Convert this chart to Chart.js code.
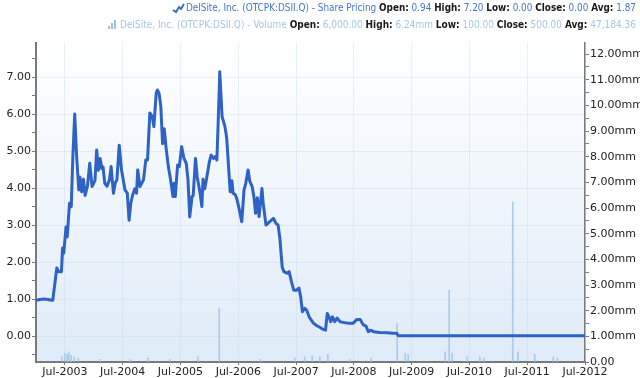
<!DOCTYPE html>
<html>
<head>
<meta charset="utf-8">
<script src="https://cdn.jsdelivr.net/npm/chart.js@4.4.0/dist/chart.umd.min.js"></script>
<style>
  html, body { margin: 0; padding: 0; background: #ffffff; }
  #wrap { width: 640px; height: 378px; position: relative; }
</style>
</head>
<body>
<div id="wrap"><canvas id="c" width="640" height="378"></canvas></div>
<script>
// ---- Data (dates as decimal years) ----
const priceDates = [2003.00,2003.07,2003.14,2003.21,2003.27,2003.29,2003.36,2003.39,2003.44,2003.46,2003.48,2003.52,2003.54,2003.58,2003.61,2003.64,2003.67,2003.70,2003.74,2003.76,2003.79,2003.82,2003.85,2003.89,2003.93,2003.97,2004.02,2004.05,2004.08,2004.11,2004.14,2004.16,2004.19,2004.23,2004.27,2004.30,2004.34,2004.37,2004.40,2004.44,2004.48,2004.54,2004.58,2004.61,2004.64,2004.67,2004.71,2004.74,2004.76,2004.80,2004.86,2004.90,2004.93,2004.97,2005.01,2005.04,2005.08,2005.10,2005.13,2005.16,2005.19,2005.22,2005.25,2005.29,2005.33,2005.37,2005.39,2005.41,2005.45,2005.48,2005.52,2005.56,2005.60,2005.63,2005.66,2005.70,2005.72,2005.76,2005.79,2005.84,2005.87,2005.89,2005.92,2005.95,2006.00,2006.03,2006.07,2006.10,2006.13,2006.15,2006.18,2006.22,2006.27,2006.30,2006.36,2006.39,2006.41,2006.45,2006.48,2006.52,2006.56,2006.60,2006.63,2006.67,2006.70,2006.74,2006.77,2006.80,2006.83,2006.86,2006.91,2006.93,2006.98,2007.05,2007.11,2007.15,2007.19,2007.22,2007.26,2007.29,2007.34,2007.38,2007.42,2007.46,2007.51,2007.55,2007.58,2007.61,2007.65,2007.68,2007.73,2007.80,2007.86,2007.91,2007.97,2008.01,2008.04,2008.08,2008.10,2008.13,2008.17,2008.21,2008.26,2008.32,2008.40,2008.49,2008.55,2008.61,2008.66,2008.71,2008.75,2008.79,2008.84,2008.95,2009.07,2009.18,2009.24,2009.27,2009.64,2010.34,2011.03,2011.72,2012.50];
const priceValues = [0.97,0.99,1.00,0.99,0.97,0.97,1.84,1.74,1.74,2.38,2.24,2.95,2.68,3.59,3.50,4.94,6.00,4.94,3.95,4.30,3.90,4.24,3.80,4.05,4.67,4.04,4.20,5.03,4.48,4.80,4.53,4.57,4.13,4.05,4.22,4.58,3.86,4.13,4.22,5.16,4.49,3.95,3.86,3.13,3.59,3.80,3.98,3.86,4.49,4.04,4.22,4.76,4.76,6.03,5.94,5.66,6.56,6.65,6.56,6.20,5.20,5.60,5.10,4.58,4.22,3.77,4.13,3.77,4.62,4.58,5.12,4.80,4.67,4.22,3.22,3.77,3.80,4.80,4.30,3.86,3.50,4.24,3.98,4.24,4.71,4.89,4.80,4.85,4.76,5.66,7.14,5.93,5.66,5.35,3.90,4.20,3.86,3.82,3.68,3.40,3.09,3.95,4.13,4.49,4.18,4.04,3.77,3.32,3.74,3.23,3.99,3.60,3.00,3.10,3.18,3.05,3.00,2.64,1.87,1.74,1.70,1.74,1.47,1.24,1.24,1.30,1.06,0.66,0.75,0.71,0.51,0.35,0.28,0.24,0.18,0.16,0.61,0.48,0.39,0.52,0.39,0.49,0.39,0.37,0.35,0.35,0.45,0.45,0.31,0.27,0.12,0.16,0.12,0.10,0.09,0.08,0.08,0.01,0.01,0.01,0.01,0.01,0.01];

const volumeDates = [2003.45,2003.50,2003.54,2003.57,2003.61,2003.66,2003.73,2004.11,2004.63,2004.94,2005.32,2005.80,2006.17,2006.88,2007.48,2007.65,2007.78,2007.91,2008.05,2008.43,2008.80,2009.25,2009.39,2009.44,2010.08,2010.15,2010.20,2010.46,2010.68,2010.75,2011.25,2011.34,2011.63,2011.95,2012.02];
const volumeValues = [0.20,0.35,0.30,0.40,0.25,0.20,0.15,0.10,0.10,0.15,0.10,0.20,2.10,0.10,0.15,0.20,0.25,0.20,0.30,0.10,0.15,1.50,0.35,0.30,0.40,2.80,0.35,0.20,0.20,0.15,6.24,0.40,0.30,0.20,0.15];

const xTickValues = [2003.5,2004.5,2005.5,2006.5,2007.5,2008.5,2009.5,2010.5,2011.5,2012.5];
const xTickLabels = ['Jul-2003','Jul-2004','Jul-2005','Jul-2006','Jul-2007','Jul-2008','Jul-2009','Jul-2010','Jul-2011','Jul-2012'];
const priceTickValues = [-0.5,0,0.5,1,1.5,2,2.5,3,3.5,4,4.5,5,5.5,6,6.5,7,7.5];
const volumeTickValues = [0,0.5,1,1.5,2,2.5,3,3.5,4,4.5,5,5.5,6,6.5,7,7.5,8,8.5,9,9.5,10,10.5,11,11.5,12];

const legendPrice = [
  ['DelSite, Inc. (OTCPK:DSII.Q) - Share Pricing ', 'c'],
  ['Open:', 'b'], [' 0.94 ', 'c'], ['High:', 'b'], [' 7.20 ', 'c'],
  ['Low:', 'b'], [' 0.00 ', 'c'], ['Close:', 'b'], [' 0.00 ', 'c'],
  ['Avg:', 'b'], [' 1.87', 'c']
];
const legendVolume = [
  ['DelSite, Inc. (OTCPK:DSII.Q) - Volume ', 'c'],
  ['Open:', 'b'], [' 6,000.00 ', 'c'], ['High:', 'b'], [' 6.24mm ', 'c'],
  ['Low:', 'b'], [' 100.00 ', 'c'], ['Close:', 'b'], [' 500.00 ', 'c'],
  ['Avg:', 'b'], [' 47,184.36', 'c']
];

// ---- Styles ----
const FONT = 'DejaVu Sans, Verdana, sans-serif';
const LINE_COLOR = '#2e62c6';
const VOL_COLOR = 'rgba(160,198,232,0.85)';
const AXIS_COLOR = '#7a7a7a';
const GRID_COLOR = 'rgba(190,208,230,0.3)';

const bgPlugin = {
  id: 'bg',
  beforeDraw(chart) {
    const { ctx, chartArea: a } = chart;
    ctx.save();
    ctx.fillStyle = '#ffffff';
    ctx.fillRect(0, 0, chart.width, chart.height);
    const g = ctx.createLinearGradient(0, a.top, 0, a.bottom);
    g.addColorStop(0, '#ffffff');
    g.addColorStop(1, '#dfebf8');
    ctx.fillStyle = g;
    ctx.fillRect(a.left, a.top, a.right - a.left, a.bottom - a.top);
    ctx.restore();
  }
};

function drawLegendLine(ctx, parts, rightX, y, targetLeft, colorMain) {
  let w = 0;
  parts.forEach(([t, s]) => {
    ctx.font = (s === 'b' ? 'bold ' : '') + '11px ' + FONT;
    w += ctx.measureText(t).width;
  });
  const target = rightX - targetLeft;
  const sx = target / w;
  ctx.save();
  ctx.translate(targetLeft, y);
  ctx.scale(sx, 1);
  let x = 0;
  ctx.textBaseline = 'middle';
  parts.forEach(([t, s]) => {
    ctx.font = (s === 'b' ? 'bold ' : '') + '11px ' + FONT;
    ctx.fillStyle = s === 'b' ? '#1a1a1a' : colorMain;
    ctx.fillText(t, x, 0);
    x += ctx.measureText(t).width;
  });
  ctx.restore();
}

const legendPlugin = {
  id: 'legendText',
  afterDraw(chart) {
    const ctx = chart.ctx;
    ctx.save();
    ctx.strokeStyle = '#3b6cc4';
    ctx.lineWidth = 2;
    ctx.beginPath();
    ctx.moveTo(173, 10); ctx.lineTo(176, 12); ctx.lineTo(179, 7); ctx.lineTo(181, 9); ctx.lineTo(184, 4);
    ctx.stroke();
    ctx.fillStyle = '#9cc2e8';
    ctx.fillRect(108, 26, 2, 3);
    ctx.fillRect(111, 23, 2, 6);
    ctx.fillRect(114, 20, 2, 9);
    ctx.restore();
    drawLegendLine(ctx, legendPrice, 636, 8, 186, '#4477c9');
    drawLegendLine(ctx, legendVolume, 636, 25, 120, '#a6c6e8');
  }
};

const ctx = document.getElementById('c').getContext('2d');
new Chart(ctx, {
  type: 'line',
  data: {
    datasets: [
      {
        type: 'line',
        data: priceDates.map((d, i) => ({ x: d, y: priceValues[i] })),
        borderColor: LINE_COLOR,
        borderWidth: 3,
        pointRadius: 0,
        tension: 0,
        borderJoinStyle: 'round',
        borderCapStyle: 'round',
        fill: false,
        xAxisID: 'x',
        yAxisID: 'y',
        order: 1
      },
      {
        type: 'bar',
        data: volumeDates.map((d, i) => ({ x: d, y: volumeValues[i] })),
        backgroundColor: VOL_COLOR,
        barThickness: 1,
        grouped: false,
        xAxisID: 'x',
        yAxisID: 'y1',
        order: 2
      }
    ]
  },
  options: {
    responsive: false,
    animation: false,
    layout: { padding: { top: 43, left: 0, right: 0, bottom: 0 } },
    plugins: { legend: { display: false }, tooltip: { enabled: false }, title: { display: false } },
    scales: {
      x: {
        type: 'linear',
        min: 2003.0,
        max: 2012.5,
        offset: false,
        afterBuildTicks: (s) => { s.ticks = xTickValues.map(v => ({ value: v })); },
        afterFit: (s) => { s.height = 16; },
        ticks: {
          autoSkip: false, maxRotation: 0, padding: 1,
          color: '#222', font: { family: FONT, size: 11 },
          callback: (v, i) => xTickLabels[i]
        },
        grid: { color: GRID_COLOR, tickLength: 3, tickColor: AXIS_COLOR, offset: false },
        border: { color: AXIS_COLOR, width: 2 }
      },
      y: {
        type: 'linear',
        position: 'left',
        min: -0.7,
        max: 7.92,
        afterBuildTicks: (s) => { s.ticks = priceTickValues.map(v => ({ value: v })); },
        afterFit: (s) => { s.width = 36; },
        ticks: {
          autoSkip: false, padding: 1,
          color: '#222', font: { family: FONT, size: 11 },
          callback: (v) => Number.isInteger(v) ? v.toFixed(2) : ''
        },
        grid: {
          color: (c) => (c.tick && Number.isInteger(c.tick.value)) ? GRID_COLOR : 'rgba(0,0,0,0)',
          tickColor: AXIS_COLOR, tickLength: 4
        },
        border: { color: AXIS_COLOR, width: 2 }
      },
      y1: {
        type: 'linear',
        position: 'right',
        min: 0,
        max: 12.43,
        afterBuildTicks: (s) => { s.ticks = volumeTickValues.map(v => ({ value: v })); },
        afterFit: (s) => { s.width = 55; },
        ticks: {
          autoSkip: false, padding: 1,
          color: '#222', font: { family: FONT, size: 11 },
          callback: (v) => v === 0 ? '0.00' : (Number.isInteger(v) ? v.toFixed(2) + 'mm' : '')
        },
        grid: { drawOnChartArea: false, tickColor: AXIS_COLOR, tickLength: 4 },
        border: { color: AXIS_COLOR, width: 1.5 }
      }
    }
  },
  plugins: [bgPlugin, legendPlugin]
});
</script>
</body>
</html>
